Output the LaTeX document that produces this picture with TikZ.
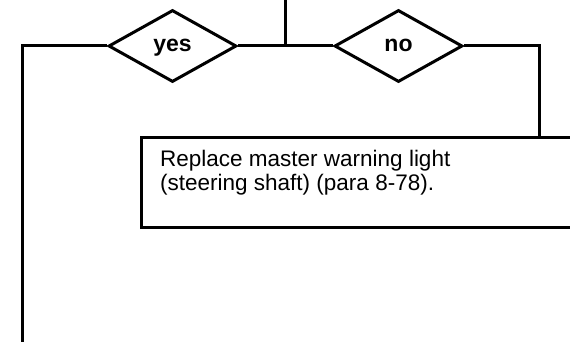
\documentclass[tikz,border=0pt]{standalone}
\usepackage{fontspec}
\setmainfont{Liberation Sans}
\usetikzlibrary{shapes.geometric,calc}
\tikzset{edge/.style={line width=3pt},choice/.style={diamond,draw,line width=3pt,inner sep=0pt,aspect=1.8,minimum width=128pt,minimum height=72pt,text height=12pt,text depth=0pt,font=\fontsize{23}{24}\selectfont\bfseries},task/.style={draw,line width=3pt,inner sep=0pt,anchor=north west,minimum width=460pt,minimum height=90pt},note/.style={anchor=north west,inner sep=0pt,align=left,font=\fontsize{22.5}{24}\selectfont}}

\begin{document}
\begin{tikzpicture}[x=1pt,y=-1pt]
\useasboundingbox (0,0) rectangle (570,342);\clip (0,0) rectangle (570,342);
\coordinate (top) at (285,0);\coordinate (split) at (285,46);
\node[choice] (yes) at (172.5,46){yes};\node[choice] (no) at (398.5,46){no};
\node[task] (fix) at (140,136){};
\node[note] (fixtext) at (160,149.5){Replace master warning light\\(steering shaft) (para 8-78).};
\coordinate (drop) at (539,136);\coordinate (down) at (22.5,342);
\draw[edge] (top)--(split);\draw[edge] (yes.east)--(split)--(no.west);
\draw[edge] (no.east)-|(drop);
\draw[edge] (yes.west)-|(down);
\end{tikzpicture}
\end{document}
